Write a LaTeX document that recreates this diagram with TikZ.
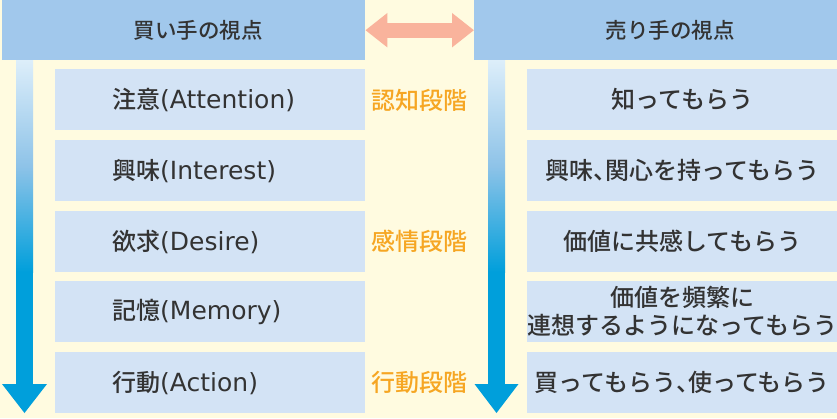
\documentclass[tikz,border=0pt]{standalone}
\usepackage{fontspec}
\setmainfont{Noto Sans CJK JP}[UprightFont=* Medium]
\newfontfamily\latinf{DejaVu Sans}
\newcommand{\lat}[1]{{\latinf\fontsize{25}{28}\selectfont #1}}
\newcommand{\hcomma}{{\addfontfeatures{RawFeature=+halt}、}}
\usetikzlibrary{arrows.meta}
\definecolor{bgc}{HTML}{FFFBE0}
\definecolor{hdrc}{HTML}{A1C8EC}
\definecolor{boxc}{HTML}{D3E3F5}
\definecolor{pinkc}{HTML}{F9B39C}
\definecolor{orangec}{HTML}{F6A623}
\definecolor{txtc}{HTML}{333333}
\definecolor{bluec}{HTML}{009FDB}
\definecolor{lightc}{HTML}{DDEEFA}
\definecolor{midc}{HTML}{8EC3E8}
\begin{document}
\begin{tikzpicture}[x=1pt,y=-1pt,
  hdrbox/.style={fill=hdrc, draw=none, anchor=north west, minimum width=363pt, minimum height=60pt, inner sep=0pt},
  hdrtxt/.style={text=txtc, font=\fontsize{21.5}{25}\selectfont, inner sep=0pt},
  stagebox/.style={fill=boxc, draw=none, anchor=north west, minimum width=310pt, minimum height=61pt, inner sep=0pt},
  lefttxt/.style={text=txtc, font=\fontsize{24}{28}\selectfont, anchor=west, inner sep=0pt},
  righttxt/.style={text=txtc, font=\fontsize{24}{28}\selectfont, align=center, inner sep=0pt},
  phasetxt/.style={text=orangec, font=\fontsize{24}{28}\selectfont, inner sep=0pt},
  dblarrow/.style={pinkc, line width=15pt, {Triangle[length=22pt,width=33pt]}-{Triangle[length=22pt,width=33pt]}}
]
\useasboundingbox (0,0) rectangle (837,418);
\fill[bgc] (0,0) rectangle (837,418);

% headers
\node[hdrbox] (hl) at (2,0) {};
\node[hdrbox, minimum width=363pt] (hr) at (474,0) {};
\node[hdrtxt] (hlt) at (198,30) {買い手の視点};
\node[hdrtxt] (hrt) at (670,30) {売り手の視点};
\draw[dblarrow] (hl.east) -- (hr.west);

% left arrow
\shade[top color=lightc, bottom color=bluec, middle color=midc] (16,60) rectangle (33,272);
\fill[bluec] (16,271.5) rectangle (33,385);
\fill[bluec] (2,384) -- (47,384) -- (24.5,413) -- cycle;

% right arrow
\shade[top color=lightc, bottom color=bluec, middle color=midc] (488,60) rectangle (505,272);
\fill[bluec] (488,271.5) rectangle (505,385);
\fill[bluec] (474.5,384) -- (518.5,384) -- (496.5,413) -- cycle;

% left boxes
\node[stagebox] (l1) at (55,69) {};
\node[stagebox] (l2) at (55,140) {};
\node[stagebox] (l3) at (55,211) {};
\node[stagebox] (l4) at (55,281) {};
\node[stagebox] (l5) at (55,352) {};
\node[lefttxt] (l1t) at ([xshift=57pt]l1.west) {注意\lat{(Attention)}};
\node[lefttxt] (l2t) at ([xshift=57pt]l2.west) {興味\lat{(Interest)}};
\node[lefttxt] (l3t) at ([xshift=57pt]l3.west) {欲求\lat{(Desire)}};
\node[lefttxt] (l4t) at ([xshift=57pt]l4.west) {記憶\lat{(Memory)}};
\node[lefttxt] (l5t) at ([xshift=57pt]l5.west) {行動\lat{(Action)}};

% right boxes
\node[stagebox] (r1) at (527,69) {};
\node[stagebox] (r2) at (527,140) {};
\node[stagebox] (r3) at (527,211) {};
\node[stagebox] (r4) at (527,281) {};
\node[stagebox] (r5) at (527,352) {};
\node[righttxt] (r1t) at (r1.center) {知ってもらう};
\node[righttxt] (r2t) at (r2.center) {興味\hcomma 関心を持ってもらう};
\node[righttxt] (r3t) at (r3.center) {価値に共感してもらう};
\node[righttxt] (r4t) at (r4.center) {価値を頻繁に\\連想するようになってもらう};
\node[righttxt] (r5t) at (r5.center) {買ってもらう\hcomma 使ってもらう};

% phase labels
\node[phasetxt] (p1) at (419.5,100) {認知段階};
\node[phasetxt] (p2) at (419.5,241) {感情段階};
\node[phasetxt] (p3) at (419.5,382) {行動段階};
\end{tikzpicture}
\end{document}
